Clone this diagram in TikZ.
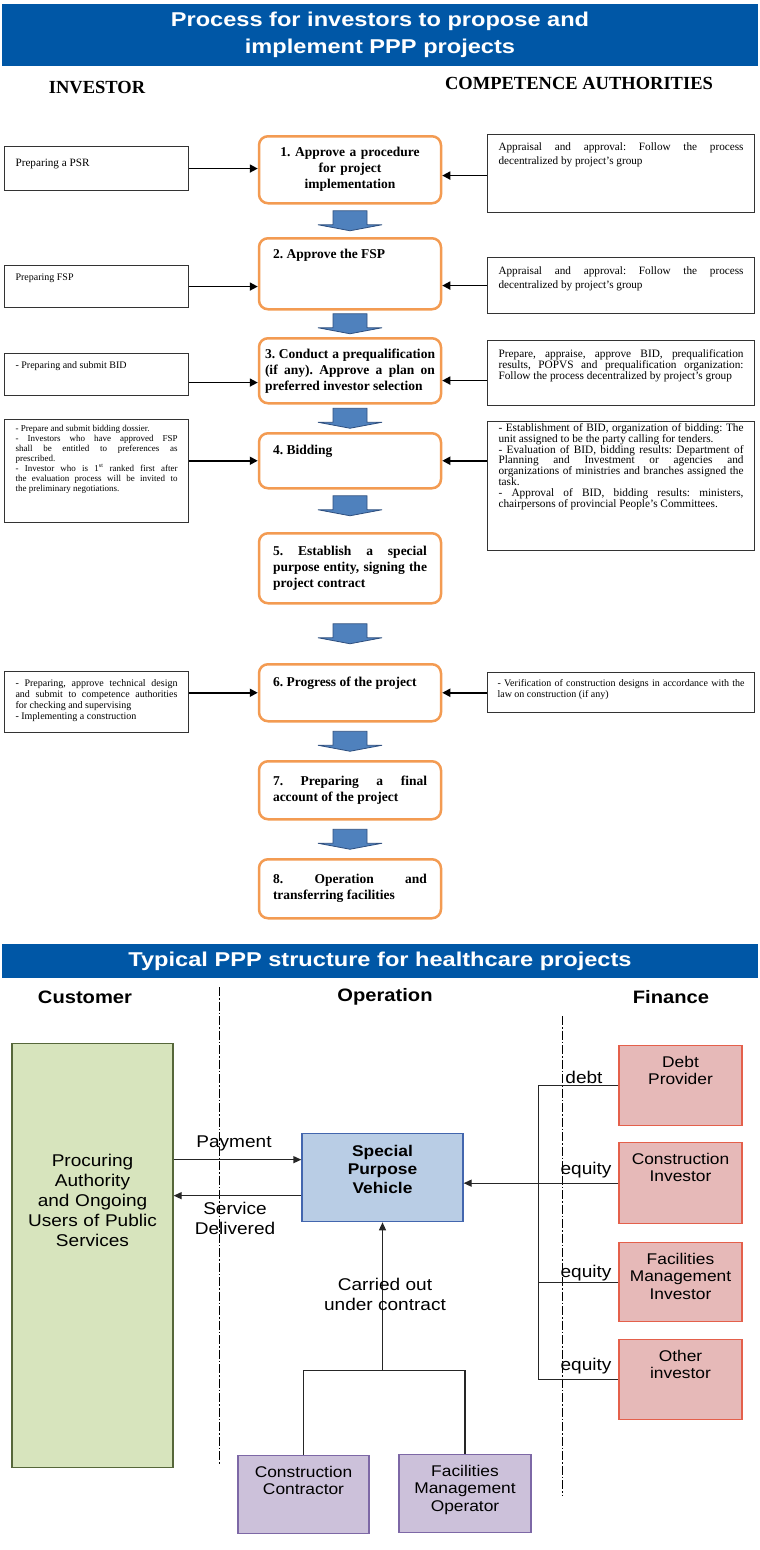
\documentclass[tikz,border=0pt]{standalone}
\usepackage{fontspec}
\setmainfont{Liberation Serif}
\newfontfamily\bannerfont[FakeStretch=1.18]{Liberation Sans}
\newfontfamily\pppfont[FakeStretch=1.12]{Liberation Sans}
\usetikzlibrary{arrows.meta,calc}
\definecolor{bannerblue}{HTML}{0057A6}
\definecolor{steporange}{HTML}{F39B52}
\definecolor{arrowblue}{HTML}{4F81BD}
\definecolor{arrowedge}{HTML}{2E4F7F}
\definecolor{custgreen}{HTML}{D7E4BD}
\definecolor{custedge}{HTML}{56673A}
\definecolor{spvblue}{HTML}{B9CDE5}
\definecolor{spvedge}{HTML}{4366AE}
\definecolor{finred}{HTML}{E6B9B8}
\definecolor{finedge}{HTML}{E4604B}
\definecolor{opviolet}{HTML}{CCC1DA}
\definecolor{opedge}{HTML}{7D68A6}
\tolerance=10000
\hbadness=10000
\frenchspacing

\begin{document}
\begin{tikzpicture}[x=1pt,y=-1pt,
  banner/.style={fill=bannerblue, text=white, minimum width=756pt, align=center, inner sep=0pt, font=\bannerfont\bfseries\fontsize{20}{27}\selectfont},
  colname/.style={font=\bfseries\fontsize{18.5}{20}\selectfont},
  stepbox/.style={draw=steporange, line width=2.5pt, rounded corners=9pt, fill=white, anchor=north, minimum width=182pt, text width=154pt, inner ysep=6pt, align=justify, font=\bfseries\fontsize{13.5}{16}\selectfont},
  invbox/.style={draw=black!80, line width=1.1pt, anchor=north west, text width=162pt, inner xsep=11pt, inner ysep=6pt, align=justify},
  authbox/.style={invbox, text width=245pt},
  sidearrow/.style={-{Triangle[length=8pt,width=8pt]}, line width=1.8pt},
  flowarrow/.pic={\draw[draw=arrowedge, fill=arrowblue, line width=0.8pt] (-17,-10) -- (17,-10) -- (17,4) -- (32,4) -- (0,10) -- (-32,4) -- (-17,4) -- cycle;},
  colhead/.style={font=\pppfont\bfseries\fontsize{18}{20}\selectfont},
  partybox/.style={anchor=north, line width=1.3pt, align=center, inner xsep=4pt, inner ysep=6pt, text height=15.5pt, font=\pppfont\fontsize{15.5}{17.5}\selectfont},
  finbox/.style={partybox, draw=finedge, fill=finred, text width=115pt},
  opbox/.style={partybox, draw=opedge, fill=opviolet},
  flowlabel/.style={font=\pppfont\fontsize{17}{20}\selectfont, align=center},
  link/.style={line width=1.3pt, draw=black!85},
  linkarrow/.style={link, -{Triangle[length=8pt,width=7pt]}},
  divider/.style={line width=0.8pt, dash pattern=on 9pt off 2pt on 1.5pt off 2pt}]
\useasboundingbox (0,0) rectangle (760,1550);

\node[banner, minimum height=62pt] (title) at (380,35) {Process for investors to propose and\\implement PPP projects};
\node[colname] (investor) at (97,88) {INVESTOR};
\node[colname] (authority) at (579,83) {COMPETENCE AUTHORITIES};

\node[stepbox, align=center, minimum height=67pt] (s1) at (350,135) {1. Approve a procedure\\for project\\implementation};
\node[stepbox, text height=14pt, text depth=45pt] (s2) at (350,237) {2. Approve the FSP};
\node[stepbox, text width=170pt, minimum height=65pt] (s3) at (350,337) {3. Conduct a prequalification\linebreak (if any). Approve a plan on\linebreak preferred investor selection\parfillskip=0pt};
\node[stepbox, text height=15pt, text depth=28pt] (s4) at (350,432) {4. Bidding};
\node[stepbox, minimum height=70pt] (s5) at (350,532) {5. Establish a special\linebreak purpose entity, signing the\linebreak project contract};
\node[stepbox, text height=16pt, text depth=29pt] (s6) at (350,663) {6. Progress of the project};
\node[stepbox, minimum height=58pt] (s7) at (350,760) {7. Preparing a final\linebreak account of the project};
\node[stepbox, minimum height=59pt] (s8) at (350,858) {8. Operation and\linebreak transferring facilities};

\pic at ($(s1.south)!0.5!(s2.north)$) {flowarrow};
\pic at ($(s2.south)!0.5!(s3.north)$) {flowarrow};
\pic at ($(s3.south)!0.5!(s4.north)$) {flowarrow};
\pic at ([yshift=5pt]$(s4.south)!0.5!(s5.north)$) {flowarrow};
\pic at ($(s5.south)!0.5!(s6.north)$) {flowarrow};
\pic at ($(s6.south)!0.5!(s7.north)$) {flowarrow};
\pic at ($(s7.south)!0.5!(s8.north)$) {flowarrow};

\node[invbox, font=\fontsize{11.2}{14}\selectfont, text height=14pt, text depth=18pt] (psr) at (4,146) {Preparing a PSR};
\node[authbox, font=\fontsize{11.2}{14}\selectfont, text height=10pt, text depth=56pt] (auth1) at (487,134) {Appraisal and approval: Follow the process\linebreak decentralized by project's group};
\node[invbox, font=\fontsize{10}{11}\selectfont, text height=9pt, text depth=21pt] (fsp) at (4,265) {Preparing FSP};
\node[authbox, font=\fontsize{11.2}{14}\selectfont, text height=11pt, text depth=33pt] (auth2) at (487,257) {Appraisal and approval: Follow the process\linebreak decentralized by project's group};
\node[invbox, font=\fontsize{10}{11}\selectfont, text height=9pt, text depth=21pt] (bid) at (4,353) {- Preparing and submit BID};
\node[authbox, font=\fontsize{11.3}{10.8}\selectfont, text height=11pt, text depth=42pt] (auth3) at (487,340) {Prepare, appraise, approve BID, prequalification\linebreak results, POPVS and prequalification organization:\linebreak Follow the process decentralized by project's group};
\node[invbox, font=\fontsize{9}{10}\selectfont, text height=6pt, text depth=85pt] (inv4) at (4,419) {- Prepare and submit bidding dossier.\\- Investors who have approved FSP\linebreak shall be entitled to preferences as\linebreak prescribed.\\- Investor who is 1\textsuperscript{st} ranked first after\linebreak the evaluation process will be invited to\linebreak the preliminary negotiations.};
\node[authbox, font=\fontsize{11.3}{10.8}\selectfont, inner ysep=3pt, text height=7pt, text depth=116pt] (auth4) at (487,421) {- Establishment of BID, organization of bidding: The\linebreak unit assigned to be the party calling for tenders.\\- Evaluation of BID, bidding results: Department of\linebreak Planning and Investment or agencies and\linebreak organizations of ministries and branches assigned the\linebreak task.\\- Approval of BID, bidding results: ministers,\linebreak chairpersons of provincial People's Committees.};
\node[invbox, font=\fontsize{10}{11}\selectfont, text height=9pt, text depth=40pt] (inv6) at (4,671) {- Preparing, approve technical design\linebreak and submit to competence authorities\linebreak for checking and supervising\\- Implementing a construction};
\node[authbox, text width=247pt, inner xsep=10pt, font=\fontsize{10}{11}\selectfont, text height=8pt, text depth=20pt] (auth6) at (487,672) {- Verification of construction designs in accordance with the\linebreak law on construction (if any)};

\draw[sidearrow] (psr.east) -- (psr.east -| s1.west);
\draw[sidearrow] ([yshift=-2pt]auth1.west) -- ([yshift=-2pt]auth1.west -| s1.east);
\draw[sidearrow] (fsp.east) -- (fsp.east -| s2.west);
\draw[sidearrow] (auth2.west) -- (auth2.west -| s2.east);
\draw[sidearrow] ([yshift=-8pt]bid.east) -- ([yshift=-8pt]bid.east -| s3.west);
\draw[sidearrow] ([yshift=-7.5pt]auth3.west) -- ([yshift=-7.5pt]auth3.west -| s3.east);
\draw[sidearrow] (inv4.east |- s4.west) -- (s4.west);
\draw[sidearrow] (auth4.west |- s4.east) -- (s4.east);
\draw[sidearrow] (inv6.east |- s6.west) -- (s6.west);
\draw[sidearrow] (auth6.west |- s6.east) -- (s6.east);

\node[banner, minimum height=34pt] (title2) at (380,961) {Typical PPP structure for healthcare projects};
\node[colhead] (customer) at (85,997) {Customer};
\node[colhead] (operation) at (385,997) {Operation};
\node[colhead] (finance) at (671,997) {Finance};
\draw[divider] (219,987) -- (219,1465);
\draw[divider] (562,1016) -- (562,1495);

\node[partybox, draw=custedge, fill=custgreen, text width=153pt, font=\pppfont\fontsize{17}{20}\selectfont, text height=117pt, text depth=295pt] (procurer) at (92.5,1043) {Procuring\\Authority\\and Ongoing\\Users of Public\\Services};
\node[partybox, draw=spvedge, fill=spvblue, text width=153pt, font=\pppfont\bfseries\fontsize{15.5}{18.5}\selectfont, text height=16.5pt, text depth=59.5pt] (spv) at (382.5,1133) {Special\\Purpose\\Vehicle};
\node[finbox, text depth=52.5pt] (debt) at (680.5,1045) {Debt\\Provider};
\node[finbox, text depth=53.5pt] (cinv) at (680.5,1142) {Construction\\Investor};
\node[finbox, text depth=51.5pt] (fminv) at (680.5,1242) {Facilities\\Management\\Investor};
\node[finbox, text depth=52.5pt] (other) at (680.5,1339) {Other\\investor};
\node[opbox, text width=123pt, text depth=50.5pt] (ccon) at (303.5,1455) {Construction\\Contractor};
\node[opbox, text width=124pt, text depth=50.5pt] (fmop) at (465,1454) {Facilities\\Management\\Operator};

\draw[linkarrow] ([yshift=18pt]spv.west -| procurer.east) -- ([yshift=18pt]spv.west);
\draw[linkarrow] ([yshift=-18pt]spv.west) -- ([yshift=-18pt]spv.west -| procurer.east);
\node[flowlabel] (payment) at (234,1143) {Payment};
\node[flowlabel] (service) at (235,1218) {Service\\Delivered};

\coordinate (bustop) at ([xshift=-80pt]debt.west);
\coordinate (busbot) at (bustop |- other.west);
\draw[link] (debt.west) -- (bustop) -- (busbot) -- (other.west);
\draw[link] (fminv.west) -- (fminv.west -| bustop);
\draw[linkarrow] (cinv.west) -- (cinv.west -| spv.east);
\node[flowlabel] (ldebt) at (584,1077) {debt};
\node[flowlabel] (leq1) at (586,1170) {equity};
\node[flowlabel] (leq2) at (586,1273) {equity};
\node[flowlabel] (leq3) at (586,1366) {equity};

\coordinate (split) at ([yshift=-148pt]spv.south);
\draw[link] (ccon.north) |- (split) -| (fmop.north);
\draw[linkarrow] (split) -- (spv.south);
\node[flowlabel] (contract) at (385,1294) {Carried out\\under contract};
\end{tikzpicture}
\end{document}
